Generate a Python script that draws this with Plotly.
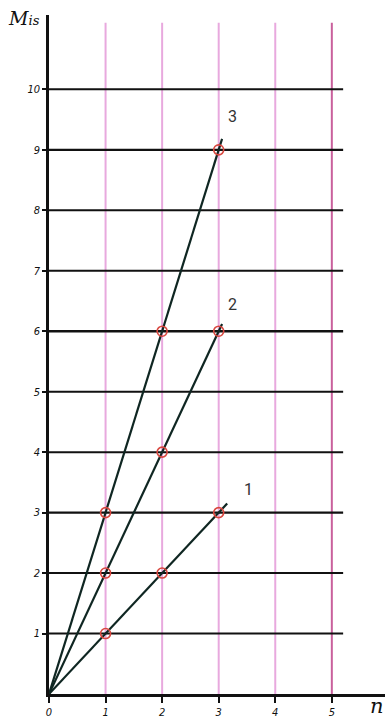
import plotly.graph_objects as go

# Data
n_values = [0, 1, 2, 3]
series_names = ["1", "2", "3"]
series_values = [
    [0, 1, 2, 3],
    [0, 2, 4, 6],
    [0, 3, 6, 9],
]
# the hand-drawn lines run a little past the last point
line_end_n = [3.15, 3.06, 3.06]
label_pos = [(3.53, 3.38), (3.25, 6.44), (3.25, 9.55)]

x_ticks = [0, 1, 2, 3, 4, 5]
y_ticks = [1, 2, 3, 4, 5, 6, 7, 8, 9, 10]

LINE_COLOR = "#0f2622"
MARK_COLOR = "#d8473f"

fig = go.Figure()

# pink vertical guides
for n in x_ticks[1:]:
    fig.add_shape(type="line", xref="x", yref="y", x0=n, x1=n, y0=0, y1=11.1,
                  line=dict(color="#c9609c" if n == 5 else "#e8a9de", width=2),
                  layer="below")

# black horizontal guides
for m in y_ticks:
    fig.add_shape(type="line", xref="x", yref="y", x0=-0.08, x1=5.2, y0=m, y1=m,
                  line=dict(color="#111111", width=2 if m % 3 else 2.4),
                  layer="below")

# lines from the origin
for name, vals, end_n in zip(series_names, series_values, line_end_n):
    slope = vals[-1] / n_values[-1]
    fig.add_trace(go.Scatter(
        x=n_values + [end_n],
        y=vals + [slope * end_n],
        mode="lines",
        line=dict(color=LINE_COLOR, width=2.2),
        hoverinfo="skip",
        name=name,
    ))

# measured points
for vals in series_values:
    fig.add_trace(go.Scatter(
        x=n_values[1:],
        y=vals[1:],
        mode="markers",
        marker=dict(symbol="circle-open", size=10, color=MARK_COLOR,
                    line=dict(width=1.6, color=MARK_COLOR)),
        hovertemplate="n=%{x}<br>Mis=%{y}<extra></extra>",
    ))

# curve numbers
for name, (lx, ly) in zip(series_names, label_pos):
    fig.add_annotation(x=lx, y=ly, text=name, showarrow=False,
                       font=dict(family="Roboto", size=16, color="#333333"))

# axis titles (paper refs: data-ref annotations outside the range get hidden)
fig.add_annotation(x=-0.075, y=0.996, xref="paper", yref="paper",
                   xanchor="center", yanchor="middle",
                   text="<i>M<span style='font-size:13px'>is</span></i>",
                   showarrow=False, font=dict(family="DejaVu Serif", size=19, color="#111111"))
fig.add_annotation(x=0.975, y=-0.018, xref="paper", yref="paper",
                   xanchor="center", yanchor="middle", text="<i>n</i>",
                   showarrow=False, font=dict(family="DejaVu Serif", size=21, color="#111111"))

fig.update_xaxes(
    range=[0, 5.94],
    tickvals=x_ticks,
    ticktext=["<i>%d</i>" % v for v in x_ticks],
    ticks="outside", ticklen=6, tickwidth=2, tickcolor="#111111",
    tickfont=dict(family="DejaVu Sans Condensed", size=11, color="#111111"),
    showline=True, linecolor="#111111", linewidth=2.5,
    showgrid=False, zeroline=False, fixedrange=True,
)
fig.update_yaxes(
    range=[0, 11.23],
    tickvals=y_ticks,
    ticktext=["<i>%d</i>" % v for v in y_ticks],
    ticks="outside", ticklen=4, tickwidth=2, tickcolor="#111111",
    tickfont=dict(family="DejaVu Sans Condensed", size=11, color="#111111"),
    showline=True, linecolor="#111111", linewidth=2.5,
    showgrid=False, zeroline=False, fixedrange=True,
)

fig.update_layout(
    width=390,
    height=724,
    showlegend=False,
    plot_bgcolor="white",
    paper_bgcolor="white",
    margin=dict(l=49, r=5, t=15, b=24),
)

# drop the default 8px body margin so the figure sits flush in the window
fig.write_html("out.html", config={"displayModeBar": False},
               post_script="document.body.style.margin='0';")
